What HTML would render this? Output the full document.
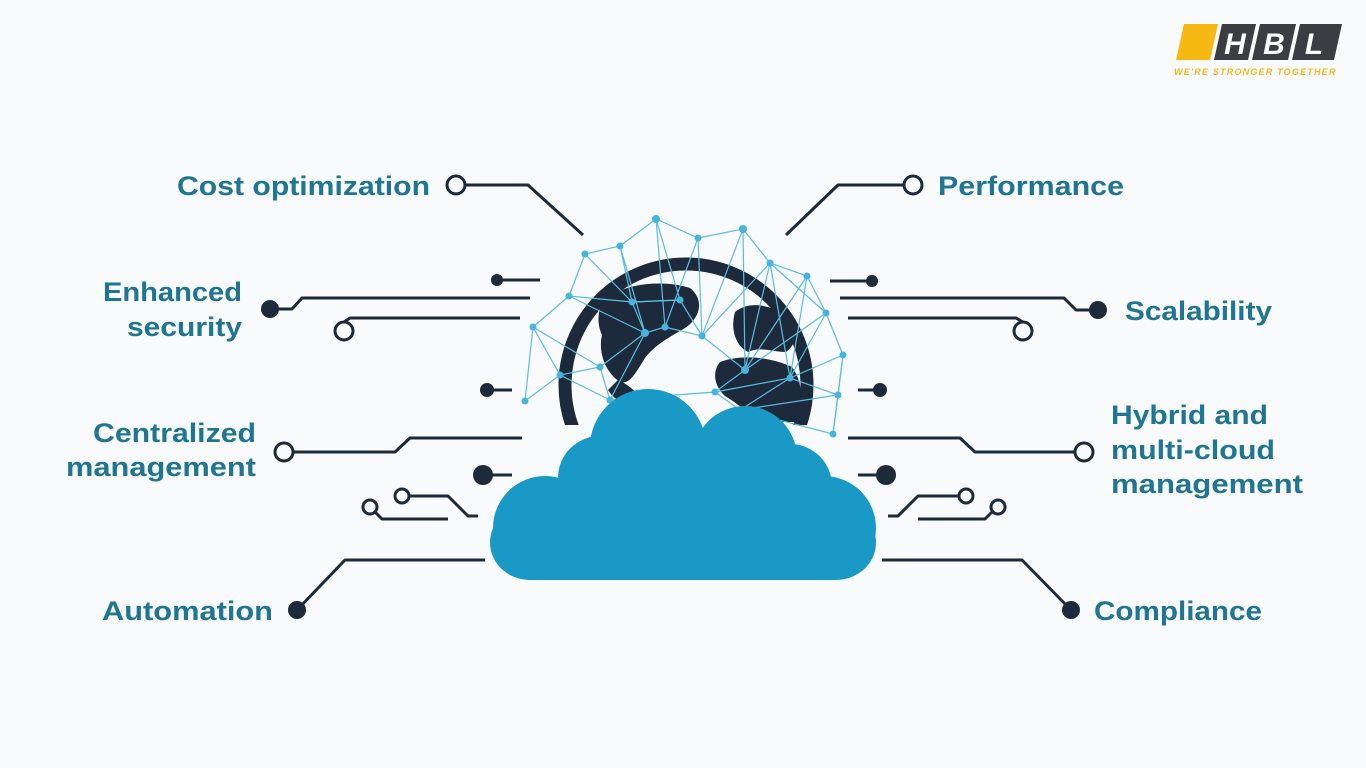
<!DOCTYPE html>
<html><head><meta charset="utf-8"><style>
html,body{margin:0;padding:0;background:#f8fafc;}
svg{display:block}
text{font-family:"Liberation Sans",sans-serif;font-weight:bold;fill:#1f7592;font-size:27px}
</style></head><body>
<svg width="1366" height="768" viewBox="0 0 1366 768">
<defs><clipPath id="c"><rect x="0" y="0" width="1366" height="425"/></clipPath></defs>
<rect width="1366" height="768" fill="#f8fafc"/>
<!-- logo -->
<polygon points="1184,24 1218,24 1210,60 1176,60" fill="#f5b912"/>
<polygon points="1222,24 1256,24 1248,60 1214,60" fill="#3b3d42"/>
<polygon points="1260,24 1296,24 1288,60 1252,60" fill="#3b3d42"/>
<polygon points="1300,24 1342,24 1334,60 1292,60" fill="#3b3d42"/>
<text x="1235" y="54" style="fill:#fff;font-size:30px;font-style:italic" text-anchor="middle">H</text>
<text x="1274" y="54" style="fill:#fff;font-size:30px;font-style:italic" text-anchor="middle">B</text>
<text x="1314" y="54" style="fill:#fff;font-size:30px;font-style:italic" text-anchor="middle">L</text>
<text x="1174" y="75" style="fill:#f5b912;font-size:9px;font-style:italic;letter-spacing:1.2px">WE'RE STRONGER TOGETHER</text>

<!-- globe -->
<g fill="#1c2a3c">
<circle cx="686" cy="385" r="121" fill="none" stroke="#1c2a3c" stroke-width="13" clip-path="url(#c)"/>
<path d="M605,300 C625,282 665,280 690,288 C705,300 700,318 685,328 C668,338 655,345 645,358 C636,372 630,385 620,382 C605,372 598,352 602,335 C596,322 598,308 605,300Z"/>
<path d="M618,380 C630,385 640,395 650,410 C632,412 614,400 608,390Z"/>
<path d="M735,312 C750,300 772,305 790,318 C800,330 796,345 786,352 C772,352 760,346 748,352 C736,346 730,330 735,312Z"/>
<path d="M720,362 C742,354 770,357 792,367 C803,382 803,400 797,422 L760,422 C745,410 735,402 725,396 C714,386 712,372 720,362Z"/>
</g>
<!-- mesh -->
<g stroke="#5bbde0" stroke-width="1.2" fill="none">
<polyline points="525,401 533,327 569,296 585,254 620,246 656,219 698,238 743,229 770,263 807,276 826,313 843,355 838,395 833,434"/>
<polyline points="525,401 560,375 600,367 610,400 560,375 533,327 600,367 645,333 632,302 569,296 645,333 620,246 632,302 680,300 656,219 665,327 698,238 702,336 743,229 745,370 770,263 790,378 807,276 745,370 826,313 790,378 843,355 838,395 790,378 715,392 745,370 702,336 665,327 645,333 610,400 715,392 740,410 838,395 833,434 740,410 790,378"/>
<polyline points="585,254 632,302 680,300 702,336 770,263 826,313"/>
</g>
<g fill="#46b4dc">
<circle cx="525" cy="401" r="3.5"/><circle cx="533" cy="327" r="3.5"/><circle cx="569" cy="296" r="3.5"/><circle cx="585" cy="254" r="3.5"/><circle cx="620" cy="246" r="3.5"/><circle cx="656" cy="219" r="4"/><circle cx="698" cy="238" r="3.5"/><circle cx="743" cy="229" r="4"/><circle cx="770" cy="263" r="3.5"/><circle cx="807" cy="276" r="3.5"/><circle cx="826" cy="313" r="3.5"/><circle cx="843" cy="355" r="3.5"/><circle cx="838" cy="395" r="3.5"/><circle cx="833" cy="434" r="3.5"/>
<circle cx="632" cy="302" r="3.5"/><circle cx="645" cy="333" r="4"/><circle cx="665" cy="327" r="3.5"/><circle cx="680" cy="300" r="3.5"/><circle cx="702" cy="336" r="3.5"/><circle cx="745" cy="370" r="4"/><circle cx="790" cy="378" r="3.5"/><circle cx="715" cy="392" r="3.5"/><circle cx="740" cy="410" r="3.5"/><circle cx="600" cy="367" r="3.5"/><circle cx="610" cy="400" r="3.5"/><circle cx="560" cy="375" r="3.5"/>
</g>
<!-- cloud -->
<g fill="#199ac6">
<circle cx="545" cy="528" r="52"/>
<circle cx="648" cy="447" r="58"/>
<circle cx="745" cy="458" r="52"/>
<circle cx="824" cy="528" r="52"/>
<circle cx="600" cy="478" r="42"/>
<circle cx="790" cy="486" r="42"/>
<rect x="490" y="505" width="386" height="75" rx="40"/>
<rect x="560" y="470" width="250" height="60"/>
</g>
<!-- connectors -->
<g stroke="#1c2a3c" stroke-width="3" fill="none" stroke-linejoin="round">
<polyline points="465,185 528,185 583,235"/>
<polyline points="903,185 838,185 786,235"/>
<line x1="497" y1="280" x2="540" y2="280"/>
<polyline points="278,309 292,309 302,298 530,298"/>
<polyline points="344,322 350,318 520,318"/>
<line x1="487" y1="390" x2="512" y2="390"/>
<polyline points="293,452 395,452 410,438 522,438"/>
<line x1="483" y1="475" x2="512" y2="475"/>
<polyline points="375,512 382,519 448,519"/>
<polyline points="409,496 448,496 468,516 478,516"/>
<polyline points="297,610 345,560 485,560"/>
<line x1="872" y1="281" x2="830" y2="281"/>
<polyline points="1090,310 1076,310 1064,298 840,298"/>
<polyline points="1023,322 1016,318 848,318"/>
<line x1="880" y1="390" x2="858" y2="390"/>
<polyline points="1075,452 975,452 960,438 848,438"/>
<line x1="886" y1="475" x2="858" y2="475"/>
<polyline points="958,496 918,496 898,516 888,516"/>
<polyline points="992,512 985,519 918,519"/>
<polyline points="1071,610 1022,560 882,560"/>
</g>
<g fill="#1c2a3c">
<circle cx="497" cy="280" r="6"/><circle cx="270" cy="309" r="9"/><circle cx="487" cy="390" r="7"/><circle cx="483" cy="475" r="10"/><circle cx="297" cy="610" r="9"/>
<circle cx="872" cy="281" r="6"/><circle cx="1098" cy="310" r="9"/><circle cx="880" cy="390" r="7"/><circle cx="886" cy="475" r="10"/><circle cx="1071" cy="610" r="9"/>
</g>
<g fill="#f8fafc" stroke="#1c2a3c" stroke-width="3">
<circle cx="456" cy="185" r="9"/><circle cx="913" cy="185" r="9"/>
<circle cx="344" cy="331" r="9"/><circle cx="1023" cy="331" r="9"/>
<circle cx="284" cy="452" r="9"/><circle cx="1084" cy="452" r="9"/>
<circle cx="370" cy="507" r="7"/><circle cx="402" cy="496" r="7"/>
<circle cx="966" cy="496" r="7"/><circle cx="998" cy="507" r="7"/>
</g>
<!-- labels -->
<g lengthAdjust="spacingAndGlyphs">
<text x="177" y="195" textLength="253" lengthAdjust="spacingAndGlyphs">Cost optimization</text>
<text x="103" y="301" textLength="139" lengthAdjust="spacingAndGlyphs">Enhanced</text>
<text x="127" y="336" textLength="115" lengthAdjust="spacingAndGlyphs">security</text>
<text x="93" y="442" textLength="163" lengthAdjust="spacingAndGlyphs">Centralized</text>
<text x="66" y="476" textLength="190" lengthAdjust="spacingAndGlyphs">management</text>
<text x="102" y="620" textLength="171" lengthAdjust="spacingAndGlyphs">Automation</text>
<text x="938" y="195" textLength="186" lengthAdjust="spacingAndGlyphs">Performance</text>
<text x="1125" y="320" textLength="147" lengthAdjust="spacingAndGlyphs">Scalability</text>
<text x="1111" y="424" textLength="157" lengthAdjust="spacingAndGlyphs">Hybrid and</text>
<text x="1111" y="459" textLength="164" lengthAdjust="spacingAndGlyphs">multi-cloud</text>
<text x="1111" y="493" textLength="192" lengthAdjust="spacingAndGlyphs">management</text>
<text x="1094" y="620" textLength="168" lengthAdjust="spacingAndGlyphs">Compliance</text>
</g>
</svg>
</body></html>
